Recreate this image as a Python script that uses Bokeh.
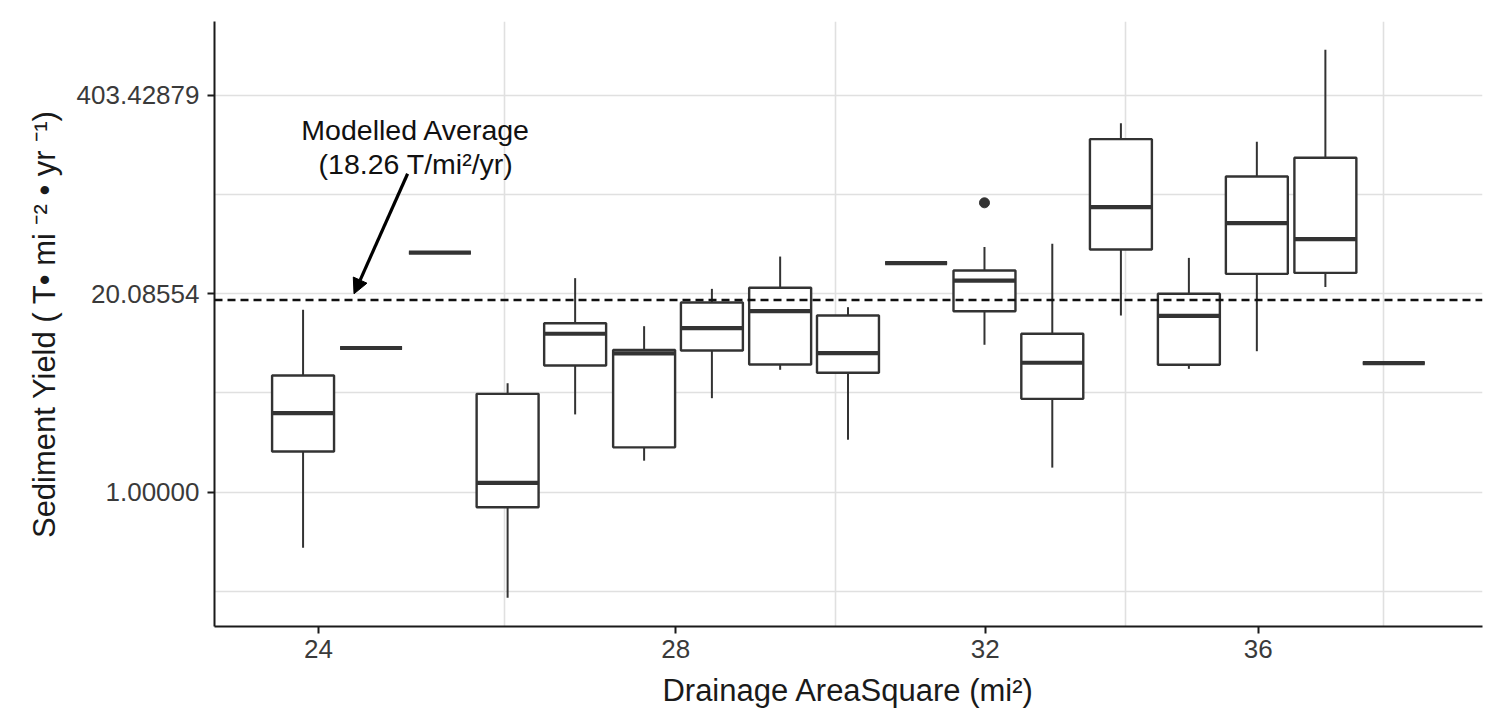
import math
from bokeh.plotting import figure
from bokeh.models import (Range1d, FixedTicker, PrintfTickFormatter, Span, Arrow,
                          NormalHead, ColumnDataSource)
from bokeh.core.properties import value
from bokeh.embed import file_html
from bokeh.resources import INLINE

# ---------------- data ----------------
area = [23.84, 24.55, 25.29, 26.04, 26.81, 27.62, 28.44, 29.29, 30.16,
        31.06, 31.99, 32.94, 33.93, 34.94, 35.98, 37.06, 38.17]
whisker_low = [0.432, 8.84, 37.3, 0.203, 3.24, 1.61, 4.14, 6.36, 2.21,
               31.9, 9.28, 1.45, 14.44, 6.45, 8.42, 22.2, 7.03]
q1 = [1.85, 8.84, 37.3, 0.797, 6.78, 1.97, 8.51, 6.89, 6.08,
      31.9, 15.4, 4.10, 39.2, 6.86, 27.1, 27.5, 7.03]
median = [3.30, 8.84, 37.3, 1.15, 10.96, 8.14, 11.92, 15.41, 8.17,
          31.9, 24.5, 7.07, 74.2, 14.38, 58.3, 45.8, 7.03]
q3 = [5.83, 8.84, 37.3, 4.42, 12.86, 8.58, 17.58, 21.96, 14.44,
      31.9, 28.5, 10.96, 207.5, 20.05, 118.0, 156.6, 7.03]
whisker_high = [15.75, 8.84, 37.3, 5.19, 25.4, 12.29, 21.6, 35.2, 16.38,
                31.9, 40.6, 42.7, 264.0, 34.5, 199.4, 801.0, 7.03]
outlier_area = [31.99]
outlier_yield = [79.3]
modelled_average = 18.26

x_ticks = [24, 28, 32, 36]
x_grid = [26, 30, 34, 38]
y_tick_logs = [0, 3, 6]
y_grid_logs = [-1.5, 0, 1.5, 3, 4.5, 6]

annotation_lines = ["Modelled Average", "(18.26 T/mi\u00b2/yr)"]
x_title = "Drainage AreaSquare (mi\u00b2)"
y_title = "Sediment Yield ( T\u2022 mi \u207b\u00b2 \u2022 yr \u207b\u00b9)"

# ---------------- styling constants ----------------
FONT = "Liberation Sans"
INK = "#333333"
GRID = "#e0e0e0"
HALF_W = 0.01337  # half box width in ln(x) units

x_lo, x_hi = 22.946, 39.66
y_lo, y_hi = 0.1314, 1228.0

p = figure(x_axis_type="log", y_axis_type="log",
           x_range=Range1d(x_lo, x_hi), y_range=Range1d(y_lo, y_hi),
           frame_width=1268, frame_height=605,
           min_border_left=214, min_border_right=10,
           min_border_top=21, min_border_bottom=87,
           output_backend="svg", toolbar_location=None)
p.outline_line_color = None
p.background_fill_color = "white"
p.border_fill_color = "white"

# grids
p.xgrid.ticker = FixedTicker(ticks=x_grid)
p.ygrid.ticker = FixedTicker(ticks=[math.exp(v) for v in y_grid_logs])
for g in (p.xgrid, p.ygrid):
    g.grid_line_color = GRID
    g.grid_line_width = 1.6

# axes
p.xaxis.ticker = FixedTicker(ticks=x_ticks)
p.xaxis.formatter = PrintfTickFormatter(format="%d")
p.yaxis.ticker = FixedTicker(ticks=[math.exp(v) for v in y_tick_logs])
p.yaxis.formatter = PrintfTickFormatter(format="%.5f")
for ax in (p.xaxis, p.yaxis):
    ax.axis_line_color = "#1a1a1a"
    ax.axis_line_width = 2
    ax.major_tick_line_color = "#1a1a1a"
    ax.major_tick_line_width = 2
    ax.major_tick_out = 7
    ax.major_tick_in = 0
    ax.minor_tick_line_color = None
    ax.major_label_text_font = FONT
    ax.major_label_text_font_size = "26px"
    ax.major_label_text_color = "#3a3a3a"
    ax.axis_label_text_font = FONT
    ax.axis_label_text_font_size = "31px"
    ax.axis_label_text_font_style = "normal"
    ax.axis_label_text_color = "#1a1a1a"
p.xaxis.major_label_standoff = 6
p.yaxis.major_label_standoff = 8
p.xaxis.axis_label = x_title
p.yaxis.axis_label = y_title
p.xaxis.axis_label_standoff = 12
p.yaxis.axis_label_standoff = 12

# ---------------- boxes ----------------
f = math.exp(HALF_W)
src = ColumnDataSource(dict(
    x=area,
    left=[a / f for a in area],
    right=[a * f for a in area],
    wl=whisker_low, q1=q1, med=median, q3=q3, wh=whisker_high,
))
p.segment(x0="x", y0="q3", x1="x", y1="wh", source=src, line_color=INK, line_width=2)
p.segment(x0="x", y0="q1", x1="x", y1="wl", source=src, line_color=INK, line_width=2)
p.quad(left="left", right="right", bottom="q1", top="q3", source=src,
       fill_color="white", line_color=INK, line_width=2.4)
p.segment(x0="left", y0="med", x1="right", y1="med", source=src,
          line_color=INK, line_width=4.2)
p.scatter(outlier_area, outlier_yield, size=10, color=INK)

# modelled average line
p.add_layout(Span(location=modelled_average, dimension="width",
                  line_color="#111111", line_width=2.7, line_dash="8 5"))

# annotation
ann_x = 25.03
p.text(x=[ann_x], y=[236.6], text=[annotation_lines[0]], text_align="center",
       text_baseline="alphabetic", text_font=value(FONT), text_font_size="28.5px",
       text_color="#111111")
p.text(x=[ann_x], y=[143.0], text=[annotation_lines[1]], text_align="center",
       text_baseline="alphabetic", text_font=value(FONT), text_font_size="28.5px",
       text_color="#111111")
p.add_layout(Arrow(end=NormalHead(size=15, fill_color="#000000", line_color="#000000"),
                   x_start=24.94, y_start=123.0, x_end=24.37, y_end=20.05,
                   line_width=3.2, line_color="#000000"))

open("out.html", "w").write(file_html(p, INLINE))
